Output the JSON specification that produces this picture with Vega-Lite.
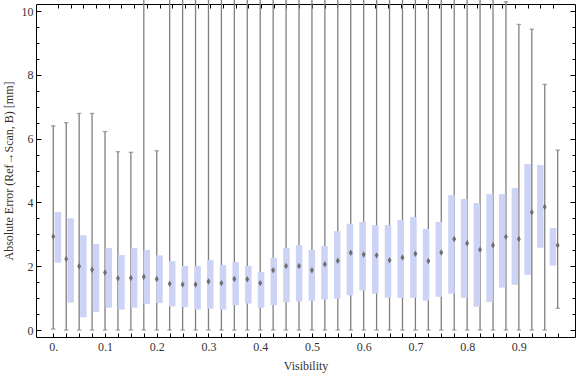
{
  "$schema": "https://vega.github.io/schema/vega-lite/v6.json",
  "width": 539,
  "height": 333,
  "autosize": "none",
  "padding": {"left": 36, "top": 4, "right": 1, "bottom": 40},
  "background": "white",
  "config": {
    "view": {"stroke": "black", "strokeWidth": 1},
    "font": "Liberation Serif",
    "axis": {"labelFont": "Liberation Serif", "titleFont": "Liberation Serif", "labelFontSize": 12, "titleFontSize": 12, "labelColor": "#333333", "titleColor": "#333333", "titleFontWeight": "normal", "domain": false, "grid": false, "tickColor": "black", "tickWidth": 1}
  },
  "data": {
    "values": [
      {"v": 0.000, "low": 0.03, "q1": 2.11, "med": 2.93, "q3": 3.70, "high": 6.40},
      {"v": 0.025, "low": 0, "q1": 0.86, "med": 2.23, "q3": 3.50, "high": 6.50},
      {"v": 0.050, "low": 0, "q1": 0.40, "med": 2.00, "q3": 2.97, "high": 6.79},
      {"v": 0.075, "low": 0, "q1": 0.57, "med": 1.89, "q3": 2.70, "high": 6.79},
      {"v": 0.100, "low": 0, "q1": 0.70, "med": 1.80, "q3": 2.57, "high": 6.22},
      {"v": 0.125, "low": 0, "q1": 0.64, "med": 1.62, "q3": 2.35, "high": 5.59},
      {"v": 0.150, "low": 0, "q1": 0.70, "med": 1.63, "q3": 2.57, "high": 5.57},
      {"v": 0.175, "low": 0, "q1": 0.82, "med": 1.67, "q3": 2.51, "high": 10.6},
      {"v": 0.200, "low": 0, "q1": 0.85, "med": 1.60, "q3": 2.34, "high": 5.62},
      {"v": 0.225, "low": 0, "q1": 0.74, "med": 1.45, "q3": 2.16, "high": 10.6},
      {"v": 0.250, "low": 0, "q1": 0.72, "med": 1.43, "q3": 2.01, "high": 10.6},
      {"v": 0.275, "low": 0, "q1": 0.64, "med": 1.43, "q3": 2.01, "high": 10.6},
      {"v": 0.300, "low": 0, "q1": 0.67, "med": 1.52, "q3": 2.19, "high": 10.6},
      {"v": 0.325, "low": 0, "q1": 0.64, "med": 1.47, "q3": 2.04, "high": 10.6},
      {"v": 0.350, "low": 0, "q1": 0.78, "med": 1.60, "q3": 2.13, "high": 10.6},
      {"v": 0.375, "low": 0, "q1": 0.83, "med": 1.59, "q3": 2.01, "high": 10.6},
      {"v": 0.400, "low": 0, "q1": 0.70, "med": 1.47, "q3": 1.82, "high": 10.6},
      {"v": 0.425, "low": 0, "q1": 0.78, "med": 1.87, "q3": 2.26, "high": 10.6},
      {"v": 0.450, "low": 0, "q1": 0.87, "med": 2.01, "q3": 2.57, "high": 10.6},
      {"v": 0.475, "low": 0, "q1": 0.89, "med": 2.01, "q3": 2.66, "high": 10.6},
      {"v": 0.500, "low": 0, "q1": 0.92, "med": 1.87, "q3": 2.51, "high": 10.6},
      {"v": 0.525, "low": 0, "q1": 0.96, "med": 2.06, "q3": 2.63, "high": 10.6},
      {"v": 0.550, "low": 0, "q1": 0.98, "med": 2.17, "q3": 3.10, "high": 10.6},
      {"v": 0.575, "low": 0, "q1": 1.09, "med": 2.42, "q3": 3.33, "high": 10.6},
      {"v": 0.600, "low": 0, "q1": 1.24, "med": 2.37, "q3": 3.39, "high": 10.6},
      {"v": 0.625, "low": 0, "q1": 1.14, "med": 2.34, "q3": 3.29, "high": 10.6},
      {"v": 0.650, "low": 0, "q1": 1.01, "med": 2.19, "q3": 3.29, "high": 10.6},
      {"v": 0.675, "low": 0, "q1": 1.01, "med": 2.27, "q3": 3.45, "high": 10.6},
      {"v": 0.700, "low": 0, "q1": 1.01, "med": 2.39, "q3": 3.54, "high": 10.6},
      {"v": 0.725, "low": 0, "q1": 0.92, "med": 2.16, "q3": 3.17, "high": 10.6},
      {"v": 0.750, "low": 0, "q1": 1.04, "med": 2.43, "q3": 3.39, "high": 10.6},
      {"v": 0.775, "low": 0, "q1": 1.14, "med": 2.85, "q3": 4.23, "high": 10.6},
      {"v": 0.800, "low": 0, "q1": 1.01, "med": 2.72, "q3": 4.11, "high": 10.6},
      {"v": 0.825, "low": 0, "q1": 0.73, "med": 2.52, "q3": 3.98, "high": 10.6},
      {"v": 0.850, "low": 0, "q1": 0.88, "med": 2.66, "q3": 4.26, "high": 10.6},
      {"v": 0.875, "low": 0, "q1": 1.33, "med": 2.92, "q3": 4.26, "high": 10.29},
      {"v": 0.900, "low": 0, "q1": 1.42, "med": 2.85, "q3": 4.45, "high": 9.58},
      {"v": 0.925, "low": 0, "q1": 1.73, "med": 3.69, "q3": 5.20, "high": 9.43},
      {"v": 0.950, "low": 0, "q1": 2.58, "med": 3.86, "q3": 5.17, "high": 7.70},
      {"v": 0.975, "low": 0.68, "q1": 2.02, "med": 2.66, "q3": 3.20, "high": 5.64}
    ]
  },
  "resolve": {"scale": {"x": "independent", "y": "independent"}, "axis": {"x": "independent", "y": "independent"}},
  "layer": [
    {
      "mark": {"type": "rule", "color": "#808080", "strokeWidth": 1.3, "clip": false},
      "encoding": {
        "x": {"field": "v", "type": "quantitative", "scale": {"domain": [-0.0334, 1.0085], "nice": false, "zero": false},
          "axis": {"orient": "bottom", "title": "Visibility", "titlePadding": 8,
            "values": [0,0.025,0.05,0.075,0.1,0.125,0.15,0.175,0.2,0.225,0.25,0.275,0.3,0.325,0.35,0.375,0.4,0.425,0.45,0.475,0.5,0.525,0.55,0.575,0.6,0.625,0.65,0.675,0.7,0.725,0.75,0.775,0.8,0.825,0.85,0.875,0.9,0.925,0.95,0.975],
            "labelExpr": "datum.value == 0 ? '0.' : (round(datum.value*40) % 4 == 0 ? format(datum.value, '.1f') : '')",
            "tickSize": -4, "labelPadding": 8, "labelFlush": false, "labelOverlap": false}},
        "y": {"field": "low", "type": "quantitative", "scale": {"domain": [-0.219, 10.22], "nice": false, "zero": false},
          "axis": {"orient": "left", "title": "Absolute Error (Ref\u2192Scan, B) [mm]", "titlePadding": 6,
            "values": [0,0.5,1,1.5,2,2.5,3,3.5,4,4.5,5,5.5,6,6.5,7,7.5,8,8.5,9,9.5,10],
            "labelExpr": "datum.value % 2 == 0 ? format(datum.value, 'd') : ''",
            "tickSize": {"condition": {"test": "datum.value % 2 == 0", "value": -5}, "value": -3},
            "labelPadding": 8, "labelOverlap": false}},
        "y2": {"field": "high"}
      }
    },
    {
      "mark": {"type": "bar", "color": "#ccd3f5", "size": 6.5, "clip": false},
      "encoding": {
        "x": {"field": "v", "type": "quantitative", "scale": {"domain": [-0.0334, 1.0085], "nice": false, "zero": false},
          "axis": {"orient": "top", "title": null, "labels": false,
            "values": [0,0.025,0.05,0.075,0.1,0.125,0.15,0.175,0.2,0.225,0.25,0.275,0.3,0.325,0.35,0.375,0.4,0.425,0.45,0.475,0.5,0.525,0.55,0.575,0.6,0.625,0.65,0.675,0.7,0.725,0.75,0.775,0.8,0.825,0.85,0.875,0.9,0.925,0.95,0.975],
            "tickSize": -4}},
        "y": {"field": "q1", "type": "quantitative", "scale": {"domain": [-0.219, 10.22], "nice": false, "zero": false},
          "axis": {"orient": "right", "title": null, "labels": false,
            "values": [0,0.5,1,1.5,2,2.5,3,3.5,4,4.5,5,5.5,6,6.5,7,7.5,8,8.5,9,9.5,10],
            "tickSize": {"condition": {"test": "datum.value % 2 == 0", "value": -5}, "value": -3}}},
        "y2": {"field": "q3"}
      }
    },
    {
      "mark": {"type": "tick", "orient": "horizontal", "color": "#808080", "size": 4.5, "thickness": 1.3, "clip": false},
      "encoding": {
        "x": {"field": "v", "type": "quantitative", "scale": {"domain": [-0.0334, 1.0085], "nice": false, "zero": false}, "axis": null},
        "y": {"field": "low", "type": "quantitative", "scale": {"domain": [-0.219, 10.22], "nice": false, "zero": false}, "axis": null}
      }
    },
    {
      "mark": {"type": "tick", "orient": "horizontal", "color": "#808080", "size": 4.5, "thickness": 1.3, "clip": false},
      "encoding": {
        "x": {"field": "v", "type": "quantitative", "scale": {"domain": [-0.0334, 1.0085], "nice": false, "zero": false}, "axis": null},
        "y": {"field": "high", "type": "quantitative", "scale": {"domain": [-0.219, 10.22], "nice": false, "zero": false}, "axis": null}
      }
    },
    {
      "mark": {"type": "point", "shape": "M0,-1L0.6,0L0,1L-0.6,0Z", "filled": true, "color": "#6e6e6e", "opacity": 1, "size": 42, "clip": false},
      "encoding": {
        "x": {"field": "v", "type": "quantitative", "scale": {"domain": [-0.0334, 1.0085], "nice": false, "zero": false}, "axis": null},
        "y": {"field": "med", "type": "quantitative", "scale": {"domain": [-0.219, 10.22], "nice": false, "zero": false}, "axis": null}
      }
    }
  ]
}
